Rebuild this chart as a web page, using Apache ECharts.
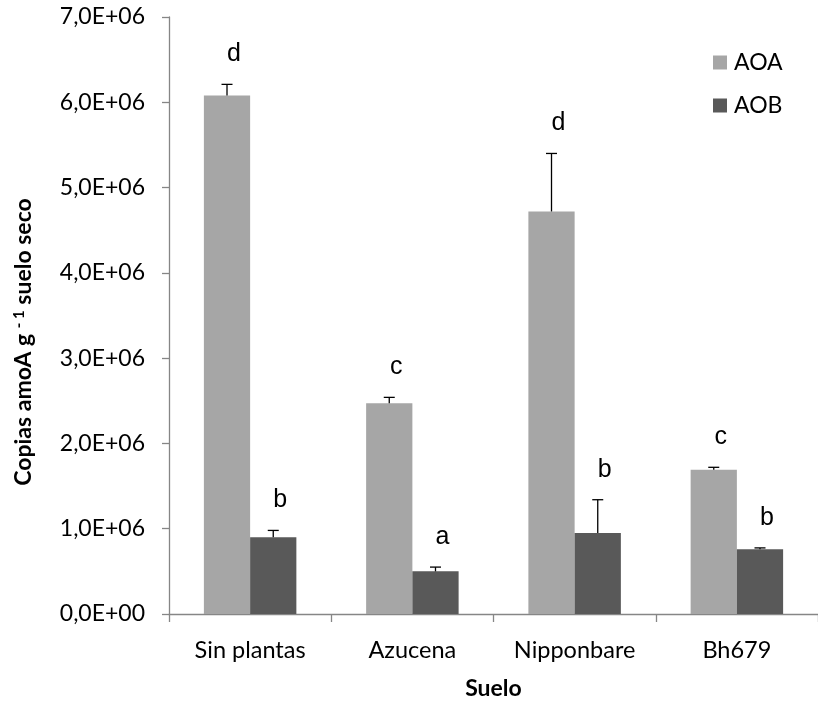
<!DOCTYPE html>
<html>
<head>
<meta charset="utf-8">
<script src="https://cdn.jsdelivr.net/npm/echarts@6/dist/echarts.min.js"></script>
<style>
  html, body { margin: 0; padding: 0; background: #fff; }
  #chart { width: 818px; height: 705px; }
</style>
</head>
<body>
<div id="chart"></div>
<script>
// Soil treatments
var categories = ['Sin plantas', 'Azucena', 'Nipponbare', 'Bh679'];
// amoA copies per g of dry soil
var aoaValues = [6.08e6, 2.47e6, 4.72e6, 1.69e6];
var aoaErrors = [0.13e6, 0.07e6, 0.68e6, 0.03e6];
var aobValues = [0.90e6, 0.50e6, 0.95e6, 0.76e6];
var aobErrors = [0.08e6, 0.05e6, 0.39e6, 0.015e6];
// Significance letters
var aoaLetters = ['d', 'c', 'd', 'c'];
var aobLetters = ['b', 'a', 'b', 'b'];
// Y-axis tick labels
var yTickLabels = ['0,0E+00', '1,0E+06', '2,0E+06', '3,0E+06', '4,0E+06', '5,0E+06', '6,0E+06', '7,0E+06'];

var AOA_COLOR = '#a6a6a6';
var AOB_COLOR = '#595959';
var CAT_GAP = 0.43;
var AXIS_FONT = 'Lato, "Open Sans", sans-serif';
var LETTER_FONT = '"Liberation Sans", Arial, sans-serif';

// Error bar + letter drawn above each bar; side = -1 (left bar) or +1 (right bar)
function makeErrorSeries(name, values, errors, letters, side) {
  return {
    type: 'custom',
    name: name + ' error',
    z: 5,
    silent: true,
    data: values.map(function (v, i) { return [i, v, v + errors[i]]; }),
    encode: { x: 0, y: [1, 2] },
    renderItem: function (params, api) {
      var idx = api.value(0);
      var base = api.coord([idx, api.value(1)]);
      var top = api.coord([idx, api.value(2)]);
      var band = api.size([1, 0])[0];
      var barW = band * (1 - CAT_GAP) / 2;
      var x = base[0] + side * barW / 2;
      var cap = 5.5;
      return {
        type: 'group',
        children: [
          { type: 'line', shape: { x1: x, y1: base[1], x2: x, y2: top[1] },
            style: { stroke: '#000', lineWidth: 1.3 } },
          { type: 'line', shape: { x1: x - cap, y1: top[1], x2: x + cap, y2: top[1] },
            style: { stroke: '#000', lineWidth: 1.3 } },
          { type: 'text', x: x + 7, y: top[1] - 30,
            style: { text: letters[params.dataIndex], font: '25px ' + LETTER_FONT,
                     fill: '#000', align: 'center', verticalAlign: 'middle' } }
        ]
      };
    }
  };
}

var chart = echarts.init(document.getElementById('chart'), null, { renderer: 'canvas' });

chart.setOption({
  animation: false,
  backgroundColor: '#fff',
  grid: { left: 169, top: 17, right: -7, bottom: 88, containLabel: false },
  legend: {
    orient: 'vertical',
    left: 713,
    top: 51,
    padding: 0,
    itemWidth: 14,
    itemHeight: 14,
    itemGap: 20,
    icon: 'rect',
    data: ['AOA', 'AOB'],
    textStyle: { fontFamily: AXIS_FONT, fontSize: 23, color: '#000', padding: [0, 0, 0, 2] }
  },
  xAxis: {
    type: 'category',
    data: categories,
    name: 'Suelo',
    nameLocation: 'middle',
    nameGap: 63,
    nameTextStyle: { fontFamily: AXIS_FONT, fontSize: 23, fontWeight: 'bold', color: '#000' },
    axisLine: { lineStyle: { color: '#868686', width: 1.3 } },
    axisTick: { show: true, length: 8, lineStyle: { color: '#868686', width: 1.3 } },
    axisLabel: { fontFamily: AXIS_FONT, fontSize: 23.5, color: '#000', margin: 24 }
  },
  yAxis: {
    type: 'value',
    min: 0,
    max: 7e6,
    interval: 1e6,
    axisLine: { show: true, lineStyle: { color: '#868686', width: 1.3 } },
    axisTick: { show: true, length: 7, lineStyle: { color: '#868686', width: 1.3 } },
    splitLine: { show: false },
    axisLabel: {
      fontFamily: AXIS_FONT, fontSize: 23, color: '#000', margin: 24,
      formatter: function (v) { return yTickLabels[Math.round(v / 1e6)]; }
    }
  },
  graphic: [{
    type: 'text',
    x: 24,
    y: 342,
    rotation: Math.PI / 2,
    style: {
      text: '{t|Copias amoA g }{s|- 1}{t| suelo seco}',
      align: 'center',
      verticalAlign: 'middle',
      fill: '#000',
      rich: {
        t: { fontFamily: AXIS_FONT, fontSize: 23, fontWeight: 'bold', fill: '#000' },
        s: { fontFamily: AXIS_FONT, fontSize: 15, fontWeight: 'bold', fill: '#000',
             verticalAlign: 'top', padding: [0, 0, 9, 0] }
      }
    }
  }],
  series: [
    { type: 'bar', name: 'AOA', data: aoaValues, barGap: '0%', barCategoryGap: '43%',
      itemStyle: { color: AOA_COLOR } },
    { type: 'bar', name: 'AOB', data: aobValues, barGap: '0%', barCategoryGap: '43%',
      itemStyle: { color: AOB_COLOR } },
    makeErrorSeries('AOA', aoaValues, aoaErrors, aoaLetters, -1),
    makeErrorSeries('AOB', aobValues, aobErrors, aobLetters, 1)
  ]
});
</script>
</body>
</html>
